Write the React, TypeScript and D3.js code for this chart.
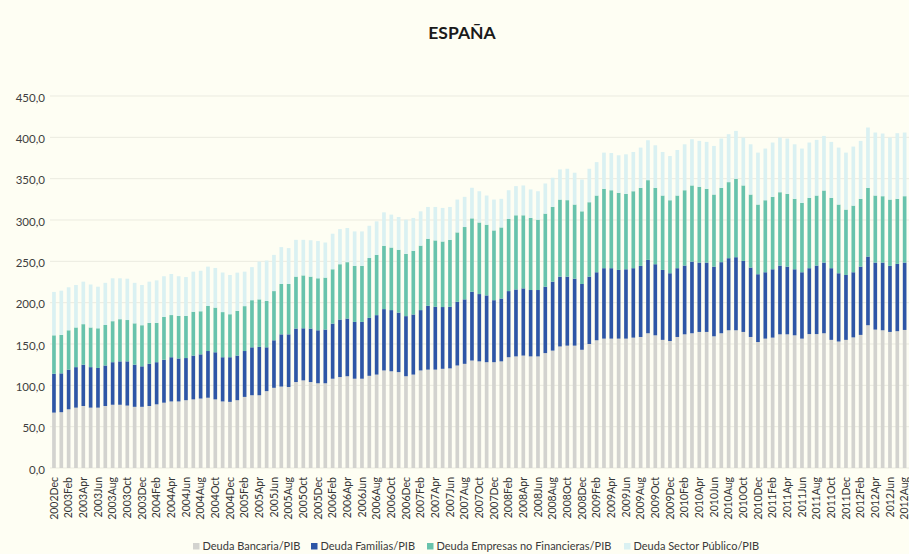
import React from "react";
import * as d3 from "d3";

const MONTHS = ["Jan", "Feb", "Mar", "Apr", "May", "Jun", "Jul", "Aug", "Sep", "Oct", "Nov", "Dec"];
const categories: string[] = [];
for (let k = 0; k < 117; k++) {
  const m = (11 + k) % 12;
  const y = 2002 + Math.floor((11 + k) / 12);
  categories.push(`${y}${MONTHS[m]}`);
}

const bancaria = [
  67, 67.5, 71, 73, 75, 73, 73, 75, 76.5, 76.5,
  75.5, 74, 74, 75, 77, 79, 80.5, 80.5, 82, 83,
  84, 85, 83, 80.5, 80, 82, 86, 88, 88, 93,
  97, 98.5, 98, 104, 106, 104, 102.5, 102.5, 108, 110,
  111, 108, 108, 111.5, 113, 118, 117, 116, 111, 113,
  118, 119, 119, 120, 120.5, 124, 126, 130, 129, 128,
  128, 129, 134, 135, 136, 135, 135, 139, 142, 147,
  148, 148, 143, 150, 154.5, 156.5, 156.5, 156.5, 156.5, 157.7,
  158.5, 163, 160.5, 155, 153.6, 158.5, 161.7, 163, 164.6, 164.6,
  159.3, 163, 166.6, 166.6, 164.6, 158.5, 152.4, 156.5, 157.7, 161.7,
  161.7, 160.5, 156.5, 162, 162, 163, 155, 153, 155, 158,
  161, 172.7, 167.4, 166.6, 164.6, 165.5, 167,
];

const familias = [
  47, 47, 48, 49, 50, 49, 48, 49, 51.5, 52.5,
  53.5, 51, 49, 51, 51, 52, 53.5, 52, 51, 53,
  53.5, 56.5, 57, 53.5, 54, 54, 55.5, 58, 58.5, 53,
  57.5, 63.2, 63.7, 64.7, 63, 64.7, 64.1, 65, 66.7, 69.6,
  69.8, 68.7, 68.7, 70.1, 71.9, 74.2, 74, 72, 72.7, 72.7,
  73, 77.2, 76, 74.7, 74.5, 77, 78, 83.2, 81.4, 80.8,
  75, 76, 80, 81, 81.3, 80.3, 80.3, 80.3, 83.4, 84.5,
  83.5, 81, 79.6, 81.5, 82.3, 85.2, 85.2, 83.1, 83.9, 84,
  86, 88.8, 86, 84.6, 82, 83.2, 83.2, 86.7, 83.9, 83.9,
  84.3, 86, 87.2, 88.4, 85.9, 84, 82, 80.3, 82.7, 83.2,
  81.9, 79.9, 80.3, 79.7, 82.9, 85.5, 86.7, 82.6, 78.5, 78.8,
  82.6, 83.1, 81.1, 81.9, 79.9, 81.4, 81.5,
];

const empresas = [
  46.5, 46.5, 47.6, 48, 49, 48, 48, 49, 49.6, 51,
  50, 50, 49.7, 49.5, 47.5, 51.8, 51, 51.5, 51, 53,
  52.1, 54.5, 54, 54.6, 52, 54, 54.3, 57, 57.5, 56,
  59.5, 60.9, 60.9, 62.8, 64, 62.8, 62.9, 62.8, 65.7, 66.9,
  68.2, 67.8, 67.8, 72.4, 72.9, 76.6, 75.7, 76, 75.3, 77,
  78, 81.1, 80.3, 79.3, 81, 84, 87.5, 88.8, 86.6, 85.5,
  84.4, 86, 87.2, 89.7, 88.4, 87.2, 85.1, 88.4, 90.4, 93.2,
  92.5, 89.7, 87.9, 90, 92.8, 96, 94.3, 93.3, 91.2, 93.1,
  94.4, 96.4, 92.4, 90, 88.3, 87.9, 91.1, 92.1, 91.7, 89.2,
  87.2, 89.9, 92, 94.9, 91.3, 88.3, 84.3, 87.1, 87.6, 88.7,
  88, 85.2, 83.9, 85.1, 84.7, 87.2, 85.1, 83.1, 79.1, 80.6,
  82, 83.1, 81.1, 80.3, 80.2, 78.7, 80.3,
];

const publico = [
  52.5, 53.5, 52, 51.4, 51.4, 52, 50.3, 51, 51.9, 49.5,
  50, 49, 48.7, 49.9, 51.5, 49.2, 49.7, 48, 47, 48.5,
  49, 47.6, 48, 47.9, 47.5, 46.3, 41.7, 40, 45.7, 49,
  43.8, 44.6, 43.4, 44.5, 43, 44, 45, 42.5, 43, 42.5,
  41.3, 41.7, 41.7, 39, 40.6, 40.5, 39.8, 39.6, 41.4, 39.8,
  41.5, 38.5, 40.5, 40.6, 39.8, 39.7, 36.5, 37, 37.8, 35.3,
  37.3, 34.6, 34.8, 35.3, 36.1, 34.5, 34.4, 36.5, 35.3, 36.5,
  38, 38.5, 38.5, 40.5, 40.4, 43.8, 45, 45.4, 47.9, 47.5,
  48.7, 48.3, 51.5, 52.7, 53.5, 55.1, 55.6, 55.9, 55.5, 56.8,
  58.8, 59.6, 58, 57.9, 58, 60.8, 62.8, 62.5, 65.7, 66.2,
  66.9, 66, 65.7, 66.9, 67.3, 66, 67.7, 68.9, 68.9, 71.4,
  70.1, 73, 76.2, 75.8, 75.1, 79.4, 77,
];

const seriesNames = [
  "Deuda Bancaria/PIB",
  "Deuda Familias/PIB",
  "Deuda Empresas no Financieras/PIB",
  "Deuda Sector Público/PIB",
];
const seriesColors = ["#d3d3cf", "#2e56a6", "#68c3ac", "#daf1f2"];
const yTicks = [0, 50, 100, 150, 200, 250, 300, 350, 400, 450];
const title = "ESPAÑA";

const W = 909;
const H = 554;
const FONT = "Lato, 'Open Sans', sans-serif";

export default function App() {
  const keys = ["b", "f", "e", "p"];
  const rows = categories.map((c, i) => ({
    cat: c,
    b: bancaria[i],
    f: familias[i],
    e: empresas[i],
    p: publico[i],
  }));
  const stacked = d3.stack<any>().keys(keys)(rows);

  const x = d3
    .scaleBand<string>()
    .domain(categories)
    .range([50.3, 908.3])
    .paddingInner(0.5)
    .paddingOuter(0.25);
  const y = d3.scaleLinear().domain([0, 450]).range([468, 96]);

  const fmt = (v: number) => v.toFixed(1).replace(".", ",");

  const legendX = [193, 311, 427, 624];

  return (
    <svg
      width={W}
      height={H}
      style={{ position: "absolute", left: 0, top: 0, display: "block", background: "#fefef3" }}
      fontFamily={FONT}
    >
      <rect x={0} y={0} width={W} height={H} fill="#fefef3" />
      <text x={462} y={39} textAnchor="middle" fontSize={17.5} fontWeight="bold" fill="#1a1a1a">
        {title}
      </text>
      {yTicks.map((t) => (
        <g key={t}>
          <line x1={50} x2={909} y1={y(t)} y2={y(t)} stroke="#ebebe0" strokeWidth={1} />
          <text
            x={45}
            y={y(t) + 1.5}
            dy="0.35em"
            textAnchor="end"
            fontSize={11.5}
            fill="#404040"
          >
            {fmt(t)}
          </text>
        </g>
      ))}
      {stacked.map((s, si) => (
        <g key={si} fill={seriesColors[si]}>
          {s.map((d: any, i: number) => (
            <rect
              key={i}
              x={x(categories[i])}
              width={x.bandwidth()}
              y={y(d[1])}
              height={Math.max(0, y(d[0]) - y(d[1]))}
            />
          ))}
        </g>
      ))}
      {categories.map((c, i) =>
        i % 2 === 0 ? (
          <text
            key={c}
            transform={`translate(${(x(c) as number) + x.bandwidth() / 2 + 3.7},477) rotate(-90)`}
            textAnchor="end"
            fontSize={10.5}
            fill="#333333"
          >
            {c}
          </text>
        ) : null
      )}
      {seriesNames.map((n, i) => (
        <g key={n}>
          <rect x={legendX[i]} y={543} width={6.5} height={6.5} fill={seriesColors[i]} />
          <text x={legendX[i] + 9.5} y={546.5} dy="0.35em" fontSize={11} fill="#3a3a3a">
            {n}
          </text>
        </g>
      ))}
    </svg>
  );
}
